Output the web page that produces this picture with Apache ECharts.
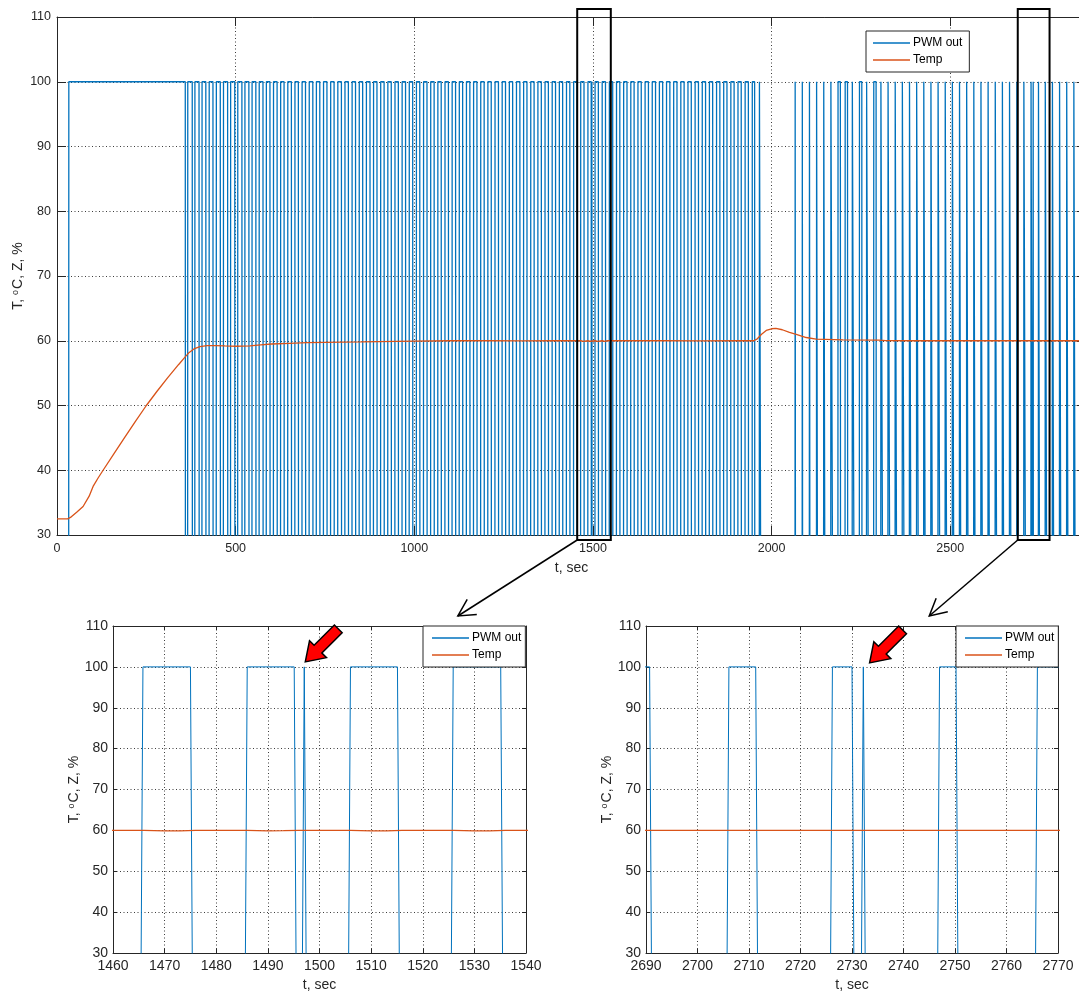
<!DOCTYPE html>
<html><head><meta charset="utf-8">
<script src="https://cdn.jsdelivr.net/npm/echarts@6/dist/echarts.min.js"></script>
<style>html,body{margin:0;padding:0;background:#fff}#c{width:1079px;height:994px}</style>
</head><body><div id="c"></div>
<script>
// ---------------- DATA ----------------
// PWM output: start time of each "on" pulse (s) and its on-duration (s); off = 0 %, on = 100 %
const pwmStart = [
 32.6, 365.5, 385.5, 405.5, 425.5, 445.5, 465.5, 485.5, 505.5, 525.5, 545.5,
 565.5, 585.5, 605.5, 625.5, 645.5, 665.5, 685.5, 705.5, 725.5, 745.5,
 765.5, 785.5, 805.5, 825.5, 845.5, 865.5, 885.5, 905.5, 925.5, 945.5,
 965.5, 985.5, 1005.5, 1025.5, 1045.5, 1065.5, 1085.5, 1105.5, 1125.5, 1145.5,
 1165.5, 1185.5, 1205.5, 1225.5, 1245.5, 1265.5, 1285.5, 1305.5, 1325.5, 1345.5,
 1365.5, 1385.5, 1405.5, 1425.5, 1445.5, 1465.3, 1485.5, 1496.55, 1505.5, 1525.4,
 1545.5, 1565.5, 1585.5, 1605.5, 1625.5, 1645.5, 1665.5, 1685.5, 1705.5, 1725.5,
 1745.5, 1765.5, 1785.5, 1805.5, 1825.5, 1845.5, 1865.5, 1885.5, 1905.5, 1925.5,
 1945.5, 1965.5,
 2065.5, 2085.5, 2105.5, 2125.5, 2145.5, 2165.5, 2185.5, 2205.5, 2225.5, 2245.5,
 2265.5, 2285.5, 2305.5, 2325.5, 2345.5, 2365.5, 2385.5, 2405.5, 2425.5, 2445.5,
 2465.5, 2485.5, 2505.5, 2525.5, 2545.5, 2565.5, 2585.5, 2605.5, 2625.5, 2645.5,
 2665.5, 2686, 2705.6, 2725.7, 2731.7, 2746.5, 2765.5, 2785.5, 2805.5, 2825.5,
 2845.5
];
const pwmWidth = [
 326.4, 13, 12, 11, 11, 11.5, 12, 12, 12, 11.5, 11,
 11, 10.5, 10.5, 10, 10.5, 10, 10, 10.5, 10, 10,
 10, 10.5, 10, 10, 10, 10.5, 10, 10, 10, 9.8,
 10, 10, 9.8, 10, 10, 9.8, 10, 10, 9.8, 10,
 9.8, 10, 9.8, 10, 9.8, 9.8, 10, 9.8, 9.8, 10,
 9.8, 9.8, 9.7, 9.8, 9.8, 9.7, 9.6, 0, 9.6, 9.7,
 9.8, 9.7, 9.8, 9.7, 9.7, 9.8, 9.7, 9.7, 9.8, 9.7,
 9.7, 9.7, 9.8, 9.7, 9.6, 9.7, 9.6, 9.6, 9.5, 9.5,
 7, 4.5,
 1, 1, 1.5, 3, 4, 6, 7, 7, 6, 7,
 6, 7, 6, 6, 5, 6, 5, 6, 5, 5,
 6, 5, 5, 4.5, 5, 4.5, 5, 4.5, 5, 4.5,
 5, 4.7, 5.7, 4.3, 0.1, 3.7, 5, 4.5, 4.5, 4.5,
 4.5
];
const pwmOff = 0, pwmOn = 100, pwmEdge = 0.5, tEnd = 2880;

// Temperature
const tempTime = [
 0, 30, 40, 55, 73, 90, 101, 115, 129, 160,
 190, 220, 250, 280, 310, 340, 357, 370, 385, 400,
 420, 445, 470, 500, 540, 570, 600, 650, 700, 750,
 800, 850, 900, 1000, 1100, 1200, 1300, 1400, 1460, 1466,
 1470, 1473, 1476, 1486, 1490, 1493, 1496, 1506, 1510, 1513,
 1516, 1526, 1530, 1533, 1536, 1540, 1600, 1700, 1800, 1900,
 1950, 1960, 1972, 1985, 2000, 2012, 2030, 2050, 2069, 2097,
 2125, 2200, 2300, 2320, 2400, 2500, 2600, 2690, 2770, 2880
];
const tempValue = [
 32.5, 32.5, 32.8, 33.5, 34.4, 36.0, 37.5, 38.8, 40.0, 42.6,
 45.1, 47.6, 50.0, 52.2, 54.3, 56.3, 57.4, 58.2, 58.8, 59.1,
 59.25, 59.25, 59.2, 59.15, 59.2, 59.35, 59.5, 59.6, 59.7, 59.75,
 59.8, 59.82, 59.88, 59.95, 60.0, 60.0, 59.98, 60.0, 60.0, 60.0,
 59.88, 59.9, 60.0, 60.0, 59.88, 59.92, 60.0, 60.0, 59.87, 59.9,
 60.0, 60.0, 59.88, 59.9, 60.0, 60.0, 60.0, 60.02, 59.98, 60.0,
 60.0, 60.3, 61.0, 61.6, 61.85, 61.9, 61.7, 61.3, 61.0, 60.5,
 60.25, 60.15, 60.1, 60.02, 60.0, 60.0, 60.0, 60.0, 60.0, 60.0
];

const seriesNames = ['PWM out', 'Temp'];
const yRange = [30, 110];
const xRanges = [[0, 2880], [1460, 1540], [2690, 2770]];
const xSteps = [500, 10, 10];
const xLabelMax = [2500, 1540, 2770];
const zoomBoxes = [[1456, 1550], [2689, 2778]];     // black boxes on the top plot (s)
const arrowTargets = [1526.8, 2745];                  // where the black arrows land on the zoomed plots (s)
const glitchTimes = [1497.05, 2732.25];               // short PWM glitches marked by the red arrows

// ---------------- BUILD ----------------
const pwmData = [[0, pwmOff]];
pwmStart.forEach((s, i) => {
  const hold = Math.max(s + pwmEdge, s + pwmWidth[i]);
  pwmData.push([s, pwmOff], [s + pwmEdge, pwmOn], [hold, pwmOn], [hold + pwmEdge, pwmOff]);
});
pwmData.push([tEnd, pwmOff]);
const tempData = tempTime.map((t, i) => [t, tempValue[i]]);

const FONT = '"Liberation Sans", Arial, Helvetica, sans-serif';
const AX = '#262626';
const GRIDC = '#3c3c3c';
const BLUE = '#0072BD', ORANGE = '#D95319';

const panels = [
  {left: 57, top: 17, width: 1029, height: 518, font: 12.5, tick: 9, nameFont: 14, xNameGap: 26, yNameGap: 32, lmY: 6, lmX: 7, pwmW: 1.3,
   legend: {left: 866, top: 31, padding: [5, 7, 5, 7]}},
  {left: 113, top: 626, width: 413, height: 327, font: 14, tick: 4, nameFont: 14, xNameGap: 25, yNameGap: 32, lmY: 5, lmX: 6, pwmW: 1,
   legend: {left: 423, top: 626, padding: [5, 4, 5, 9]}},
  {left: 646, top: 626, width: 412, height: 327, font: 14, tick: 4, nameFont: 14, xNameGap: 25, yNameGap: 32, lmY: 5, lmX: 6, pwmW: 1,
   legend: {left: 956, top: 626, padding: [5, 4, 5, 9]}}
];

const grid = [], xAxis = [], yAxis = [], series = [], legend = [];
panels.forEach((p, g) => {
  grid.push({left: p.left, top: p.top, width: p.width, height: p.height, containLabel: false, outerBoundsMode: 'none'});
  const step = xSteps[g];
  xAxis.push({
    type: 'value', gridIndex: g, min: xRanges[g][0], max: xRanges[g][1], interval: step, position: 'bottom',
    axisLine: {show: true, onZero: false, lineStyle: {color: AX, width: 1}},
    axisTick: {show: true, inside: true, length: p.tick, lineStyle: {color: AX}},
    axisLabel: {color: AX, fontSize: p.font, fontFamily: FONT, margin: p.lmX, hideOverlap: false,
      formatter: v => (Math.abs(v / step - Math.round(v / step)) < 1e-9 && v <= xLabelMax[g]) ? String(v) : ''},
    splitLine: {show: true, lineStyle: {color: GRIDC, type: [1, 2.5], width: 1}},
    name: 't, sec', nameLocation: 'middle', nameGap: p.xNameGap,
    nameTextStyle: {color: AX, fontSize: p.nameFont, fontFamily: FONT}
  });
  xAxis.push({
    type: 'value', gridIndex: g, min: xRanges[g][0], max: xRanges[g][1], interval: step, position: 'top',
    axisLine: {show: true, onZero: false, lineStyle: {color: AX, width: 1}},
    axisTick: {show: true, inside: true, length: p.tick, lineStyle: {color: AX}},
    axisLabel: {show: false}, splitLine: {show: false}
  });
  yAxis.push({
    type: 'value', gridIndex: g, min: yRange[0], max: yRange[1], interval: 10, position: 'left',
    axisLine: {show: true, onZero: false, lineStyle: {color: AX, width: 1}},
    axisTick: {show: true, inside: true, length: p.tick, lineStyle: {color: AX}},
    axisLabel: {color: AX, fontSize: p.font, fontFamily: FONT, margin: p.lmY},
    splitLine: {show: true, lineStyle: {color: GRIDC, type: [1, 2.5], width: 1}},
    name: 'T, {s|o}C, Z, %', nameLocation: 'middle', nameGap: p.yNameGap, nameRotate: 90, nameMoveOverlap: false,
    nameTextStyle: {color: AX, fontSize: p.nameFont, fontFamily: FONT,
      rich: {s: {fontSize: 9, verticalAlign: 'top', color: AX, fontFamily: FONT, padding: [0, 1, 0, 0]}}}
  });
  yAxis.push({
    type: 'value', gridIndex: g, min: yRange[0], max: yRange[1], interval: 10, position: 'right',
    axisLine: {show: true, onZero: false, lineStyle: {color: AX, width: 1}},
    axisTick: {show: true, inside: true, length: p.tick, lineStyle: {color: AX}},
    axisLabel: {show: false}, splitLine: {show: false}
  });
  series.push({
    type: 'line', name: seriesNames[0], xAxisIndex: g * 2, yAxisIndex: g * 2, data: pwmData,
    symbol: 'none', showSymbol: false, clip: true, animation: false, sampling: null,
    lineStyle: {color: BLUE, width: p.pwmW}, itemStyle: {color: BLUE}, z: 2
  });
  series.push({
    type: 'line', name: seriesNames[1], xAxisIndex: g * 2, yAxisIndex: g * 2, data: tempData,
    symbol: 'none', showSymbol: false, clip: true, animation: false,
    lineStyle: {color: ORANGE, width: 1.3}, itemStyle: {color: ORANGE}, z: 3
  });
  legend.push({
    data: seriesNames.map(n => ({name: n, icon: 'rect', itemStyle: {opacity: 0.75}})),
    orient: 'vertical', left: p.legend.left, top: p.legend.top, padding: p.legend.padding,
    itemWidth: 37, itemHeight: 2, itemGap: 3, selectedMode: false,
    backgroundColor: '#fff', borderColor: AX, borderWidth: 1, borderRadius: 0,
    textStyle: {color: '#000', fontSize: 12, fontFamily: FONT, lineHeight: 14, padding: [0, 0, 0, -2]}
  });
});

const chart = echarts.init(document.getElementById('c'), null, {renderer: 'canvas'});
chart.setOption({animation: false, backgroundColor: '#fff', grid, xAxis, yAxis, series, legend});

// ---------------- ANNOTATIONS ----------------
function px(g, t, v) { return chart.convertToPixel({xAxisIndex: g * 2, yAxisIndex: g * 2}, [t, v]); }
const graphics = [];
zoomBoxes.forEach((b, i) => {
  const p1 = px(0, b[0], yRange[1]), p2 = px(0, b[1], yRange[0]);
  const x1 = p1[0], x2 = p2[0], y1 = p1[1] - 8, y2 = p2[1] + 5;
  graphics.push({type: 'rect', z: 100, shape: {x: x1, y: y1, width: x2 - x1, height: y2 - y1},
    style: {fill: null, stroke: '#000', lineWidth: 2}});
  const tip = px(i + 1, arrowTargets[i], yRange[1]);
  tip[1] -= 10;
  graphics.push({type: 'line', z: 100, shape: {x1: x1, y1: y2, x2: tip[0], y2: tip[1]},
    style: {stroke: '#000', lineWidth: 1.5}});
  const dx = x1 - tip[0], dy = y2 - tip[1], L = Math.hypot(dx, dy), ux = dx / L, uy = dy / L;
  const a = 28 * Math.PI / 180, hl = 19;
  const ends = [1, -1].map(sg => {
    const c = Math.cos(a), sn = Math.sin(a) * sg;
    return [tip[0] + (ux * c - uy * sn) * hl, tip[1] + (ux * sn + uy * c) * hl];
  });
  graphics.push({type: 'polyline', z: 100, shape: {points: [ends[0], tip, ends[1]]},
    style: {stroke: '#000', lineWidth: 1.5, fill: null}});
});
const redOffsets = [[1, -5], [6, -4]];
glitchTimes.forEach((t, i) => {
  const p = px(i + 1, t, 100);
  const T = [p[0] + redOffsets[i][0], p[1] + redOffsets[i][1]];
  const tail = [T[0] + 33, T[1] - 33];
  const dx = T[0] - tail[0], dy = T[1] - tail[1], L = Math.hypot(dx, dy), ux = dx / L, uy = dy / L;
  const nx = -uy, ny = ux, hlen = 18, hw = 12, sw = 5.5;
  const B = [T[0] - ux * hlen, T[1] - uy * hlen];
  const pts = [
    T,
    [B[0] + nx * hw, B[1] + ny * hw],
    [B[0] + nx * sw, B[1] + ny * sw],
    [tail[0] + nx * sw, tail[1] + ny * sw],
    [tail[0] - nx * sw, tail[1] - ny * sw],
    [B[0] - nx * sw, B[1] - ny * sw],
    [B[0] - nx * hw, B[1] - ny * hw]
  ];
  graphics.push({type: 'polygon', z: 101, shape: {points: pts},
    style: {fill: '#ff0000', stroke: '#000', lineWidth: 1.5, lineJoin: 'miter'}});
});
chart.setOption({graphic: graphics});
</script>
</body></html>
